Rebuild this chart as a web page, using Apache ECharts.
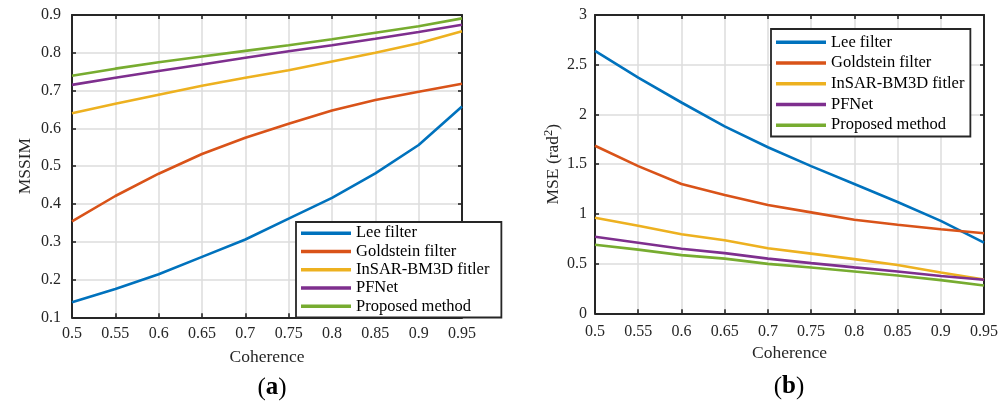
<!DOCTYPE html>
<html>
<head>
<meta charset="utf-8">
<script src="https://cdn.jsdelivr.net/npm/echarts@6/dist/echarts.min.js"></script>
<style>
  html, body { margin: 0; padding: 0; background: #fff; }
  #chart { width: 1008px; height: 405px; }
</style>
</head>
<body>
<div id="chart"></div>
<script>
// Coherence levels shared by both panels
const coherence = [0.5, 0.55, 0.6, 0.65, 0.7, 0.75, 0.8, 0.85, 0.9, 0.95];

const methodNames = ['Lee filter', 'Goldstein filter', 'InSAR-BM3D fitler', 'PFNet', 'Proposed method'];
const methodColors = ['#0072BD', '#D95319', '#EDB120', '#7E2F8E', '#77AC30'];

// Panel (a): MSSIM
const mssimLee       = [0.140, 0.175, 0.214, 0.260, 0.306, 0.361, 0.416, 0.481, 0.556, 0.658];
const mssimGoldstein = [0.354, 0.421, 0.480, 0.532, 0.575, 0.612, 0.647, 0.675, 0.697, 0.718];
const mssimBM3D      = [0.640, 0.665, 0.689, 0.713, 0.734, 0.754, 0.777, 0.800, 0.825, 0.857];
const mssimPFNet     = [0.715, 0.734, 0.752, 0.769, 0.787, 0.804, 0.820, 0.837, 0.855, 0.874];
const mssimProposed  = [0.739, 0.758, 0.775, 0.790, 0.805, 0.820, 0.836, 0.853, 0.870, 0.891];

// Panel (b): MSE (rad^2)
const mseLee       = [2.64, 2.37, 2.12, 1.88, 1.67, 1.48, 1.30, 1.12, 0.93, 0.71];
const mseGoldstein = [1.685, 1.48, 1.30, 1.19, 1.09, 1.015, 0.94, 0.89, 0.845, 0.805];
const mseBM3D      = [0.96, 0.88, 0.795, 0.735, 0.655, 0.60, 0.545, 0.485, 0.41, 0.34];
const msePFNet     = [0.77, 0.71, 0.65, 0.605, 0.55, 0.505, 0.462, 0.42, 0.375, 0.337];
const mseProposed  = [0.69, 0.64, 0.585, 0.55, 0.497, 0.46, 0.42, 0.38, 0.334, 0.28];

// Tick settings
const xTicks = { min: 0.5, max: 0.95, interval: 0.05 };
const mssimTicks = { min: 0.1, max: 0.9, interval: 0.1 };
const mseTicks = { min: 0, max: 3, interval: 0.5 };

const FONT = 'Liberation Serif';
const INK = '#262626';
const GRID_GRAY = '#dcdcdc';

const mssimSeries = [mssimLee, mssimGoldstein, mssimBM3D, mssimPFNet, mssimProposed];
const mseSeries = [mseLee, mseGoldstein, mseBM3D, msePFNet, mseProposed];

function pairs(values) {
  return coherence.map((c, i) => [c, values[i]]);
}

const frameLine = { show: true, onZero: false, lineStyle: { color: INK, width: 2 } };
const innerTick = { show: true, inside: true, length: 4, lineStyle: { color: INK, width: 1.6 } };

function mainX(gridIndex, labelMargin) {
  return {
    type: 'value', gridIndex, position: 'bottom',
    min: xTicks.min, max: xTicks.max, interval: xTicks.interval,
    name: 'Coherence', nameLocation: 'middle', nameGap: 31,
    nameTextStyle: { fontFamily: FONT, fontSize: 17.5, color: INK },
    axisLine: frameLine,
    axisTick: innerTick,
    axisLabel: { fontFamily: FONT, fontSize: 16, color: INK, margin: labelMargin },
    splitLine: { show: true, lineStyle: { color: GRID_GRAY, width: 1.5 } }
  };
}

function frameX(gridIndex) {
  return {
    type: 'value', gridIndex, position: 'top',
    min: xTicks.min, max: xTicks.max, interval: xTicks.interval,
    axisLine: frameLine,
    axisTick: innerTick,
    axisLabel: { show: false },
    splitLine: { show: false }
  };
}

function mainY(gridIndex, ticks, name, nameGap, labelMargin, rich) {
  return {
    type: 'value', gridIndex, position: 'left',
    min: ticks.min, max: ticks.max, interval: ticks.interval,
    name, nameLocation: 'middle', nameGap, nameRotate: 90,
    nameTextStyle: { fontFamily: FONT, fontSize: 17.5, color: INK, rich },
    axisLine: frameLine,
    axisTick: innerTick,
    axisLabel: { fontFamily: FONT, fontSize: 16, color: INK, margin: labelMargin },
    splitLine: { show: true, lineStyle: { color: GRID_GRAY, width: 1.5 } }
  };
}

function frameY(gridIndex, ticks) {
  return {
    type: 'value', gridIndex, position: 'right',
    min: ticks.min, max: ticks.max, interval: ticks.interval,
    axisLine: frameLine,
    axisTick: innerTick,
    axisLabel: { show: false },
    splitLine: { show: false }
  };
}

const series = [];
methodNames.forEach((name, i) => {
  series.push({
    name, type: 'line', xAxisIndex: 0, yAxisIndex: 0,
    data: pairs(mssimSeries[i]), symbol: 'none', smooth: false,
    lineStyle: { color: methodColors[i], width: 2.6 }, itemStyle: { color: methodColors[i] },
    z: 3
  });
});
methodNames.forEach((name, i) => {
  series.push({
    name, type: 'line', xAxisIndex: 2, yAxisIndex: 2,
    data: pairs(mseSeries[i]), symbol: 'none', smooth: false,
    lineStyle: { color: methodColors[i], width: 2.6 }, itemStyle: { color: methodColors[i] },
    z: 3
  });
});

function legend(left, top, padding, lineHeight) {
  return {
    data: methodNames, orient: 'vertical', left, top, padding,
    itemGap: 0, itemWidth: 50, itemHeight: 3.5, icon: 'rect',
    selectedMode: false,
    backgroundColor: '#fff', borderColor: INK, borderWidth: 1.8, borderRadius: 0,
    textStyle: { fontFamily: FONT, fontSize: 16.5, color: '#000', lineHeight },
    z: 10
  };
}

const option = {
  animation: false,
  backgroundColor: '#fff',
  grid: [
    { left: 72, top: 15, width: 390, height: 302.3, containLabel: false },
    { left: 595, top: 15, width: 389, height: 298.3, containLabel: false }
  ],
  // grid 0 uses xAxis 0 / yAxis 0, grid 1 uses xAxis 2 / yAxis 2; odd indices draw the top/right frame
  xAxis: [mainX(0, 8), frameX(0), mainX(1, 10), frameX(1)],
  yAxis: [
    mainY(0, mssimTicks, 'MSSIM', 38, 11),
    frameY(0, mssimTicks),
    mainY(1, mseTicks, '{a|MSE (rad}{s|2}{a|)}', 33, 8, {
      a: { fontFamily: FONT, fontSize: 17.5, color: INK, lineHeight: 20, verticalAlign: 'bottom' },
      s: { fontFamily: FONT, fontSize: 12.5, color: INK, lineHeight: 12, verticalAlign: 'top' }
    }),
    frameY(1, mseTicks)
  ],
  legend: [
    legend(296, 222, [2, 12, 2, 5], 18.3),
    legend(771, 29, [3, 6, 1, 5], 20.7)
  ],
  graphic: [
    {
      type: 'text', x: 272, y: 388,
      style: {
        text: '{p|(}{b|a}{p|)}', textAlign: 'center', textVerticalAlign: 'middle',
        rich: {
          p: { fontFamily: FONT, fontSize: 25, color: '#000' },
          b: { fontFamily: FONT, fontSize: 25, fontWeight: 'bold', color: '#000' }
        }
      }
    },
    {
      type: 'text', x: 789, y: 387,
      style: {
        text: '{p|(}{b|b}{p|)}', textAlign: 'center', textVerticalAlign: 'middle',
        rich: {
          p: { fontFamily: FONT, fontSize: 25, color: '#000' },
          b: { fontFamily: FONT, fontSize: 25, fontWeight: 'bold', color: '#000' }
        }
      }
    }
  ],
  series
};

const chart = echarts.init(document.getElementById('chart'), null, { renderer: 'canvas' });
chart.setOption(option);
</script>
</body>
</html>
